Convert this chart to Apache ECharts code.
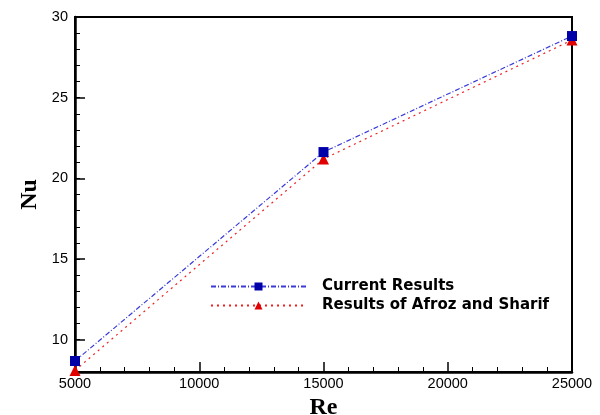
<!DOCTYPE html>
<html>
<head>
<meta charset="utf-8">
<script src="https://cdn.jsdelivr.net/npm/echarts@6/dist/echarts.min.js"></script>
<style>
html,body{margin:0;padding:0;background:#fff;}
#chart{width:600px;height:415px;}
</style>
</head>
<body>
<div id="chart"></div>
<script>
// Nusselt number versus Reynolds number
const reynolds = [5000, 15000, 25000];
const nuCurrent = [8.68, 21.63, 28.82];
const nuAfroz = [8.1, 21.2, 28.57];
const seriesNames = ['Current Results', 'Results of Afroz and Sharif'];
const nuMajorTicks = [10, 15, 20, 25, 30];

const chart = echarts.init(document.getElementById('chart'));
chart.setOption({
  animation: false,
  backgroundColor: '#fff',
  grid: {left: 75, right: 28, top: 17, bottom: 43, outerBoundsMode: 'none',
    show: true, borderColor: '#000', borderWidth: 2},
  legend: {
    left: 205, top: 274, orient: 'vertical', itemGap: 4,
    itemWidth: 95, itemHeight: 10,
    textStyle: {fontFamily: 'DejaVu Sans', fontWeight: 'bold', fontSize: 15, color: '#000',
      padding: [0, 0, 0, 11]},
    data: seriesNames
  },
  xAxis: {
    type: 'value', min: 5000, max: 25000, interval: 5000,
    name: 'Re', nameLocation: 'middle', nameGap: 19,
    nameTextStyle: {fontFamily: 'Liberation Serif', fontWeight: 'bold', fontSize: 24, color: '#000'},
    axisLine: {lineStyle: {color: '#000', width: 2.5}},
    axisTick: {inside: true, length: 10, lineStyle: {color: '#000', width: 1.5}},
    minorTick: {show: true, splitNumber: 5, length: 5, lineStyle: {color: '#000', width: 1}},
    axisLabel: {fontFamily: 'Liberation Sans', fontSize: 14.5, color: '#000', margin: 4,
      formatter: v => String(v)},
    splitLine: {show: false}
  },
  yAxis: [
    {
      // unit ticks
      type: 'value', min: 8, max: 30, interval: 1,
      name: 'Nu', nameLocation: 'middle', nameGap: 33,
      nameTextStyle: {fontFamily: 'Liberation Serif', fontWeight: 'bold', fontSize: 24, color: '#000'},
      axisLine: {show: true, lineStyle: {color: '#000', width: 2.5}},
      axisTick: {inside: true, length: 5, lineStyle: {color: '#000', width: 1}},
      axisLabel: {show: false},
      splitLine: {show: false}
    },
    {
      // labelled ticks every 5
      type: 'value', min: 8, max: 30, position: 'left',
      axisLine: {show: false},
      axisTick: {inside: true, length: 10, customValues: nuMajorTicks,
        lineStyle: {color: '#000', width: 1.5}},
      axisLabel: {fontFamily: 'Liberation Sans', fontSize: 14.5, color: '#000', margin: 7,
        customValues: nuMajorTicks},
      splitLine: {show: false}
    }
  ],
  series: [
    {
      name: seriesNames[0], type: 'line',
      data: reynolds.map((r, i) => [r, nuCurrent[i]]),
      symbol: 'rect', symbolSize: 10,
      itemStyle: {color: '#0000a8'},
      lineStyle: {color: '#3a3ad8', width: 1.2, type: [5, 2, 1, 2]},
      z: 3
    },
    {
      name: seriesNames[1], type: 'line',
      data: reynolds.map((r, i) => [r, nuAfroz[i]]),
      symbol: 'triangle', symbolSize: 11,
      itemStyle: {color: '#e00000'},
      lineStyle: {color: '#f02020', width: 1.2, type: [2, 4]},
      z: 2
    }
  ]
});
</script>
</body>
</html>
